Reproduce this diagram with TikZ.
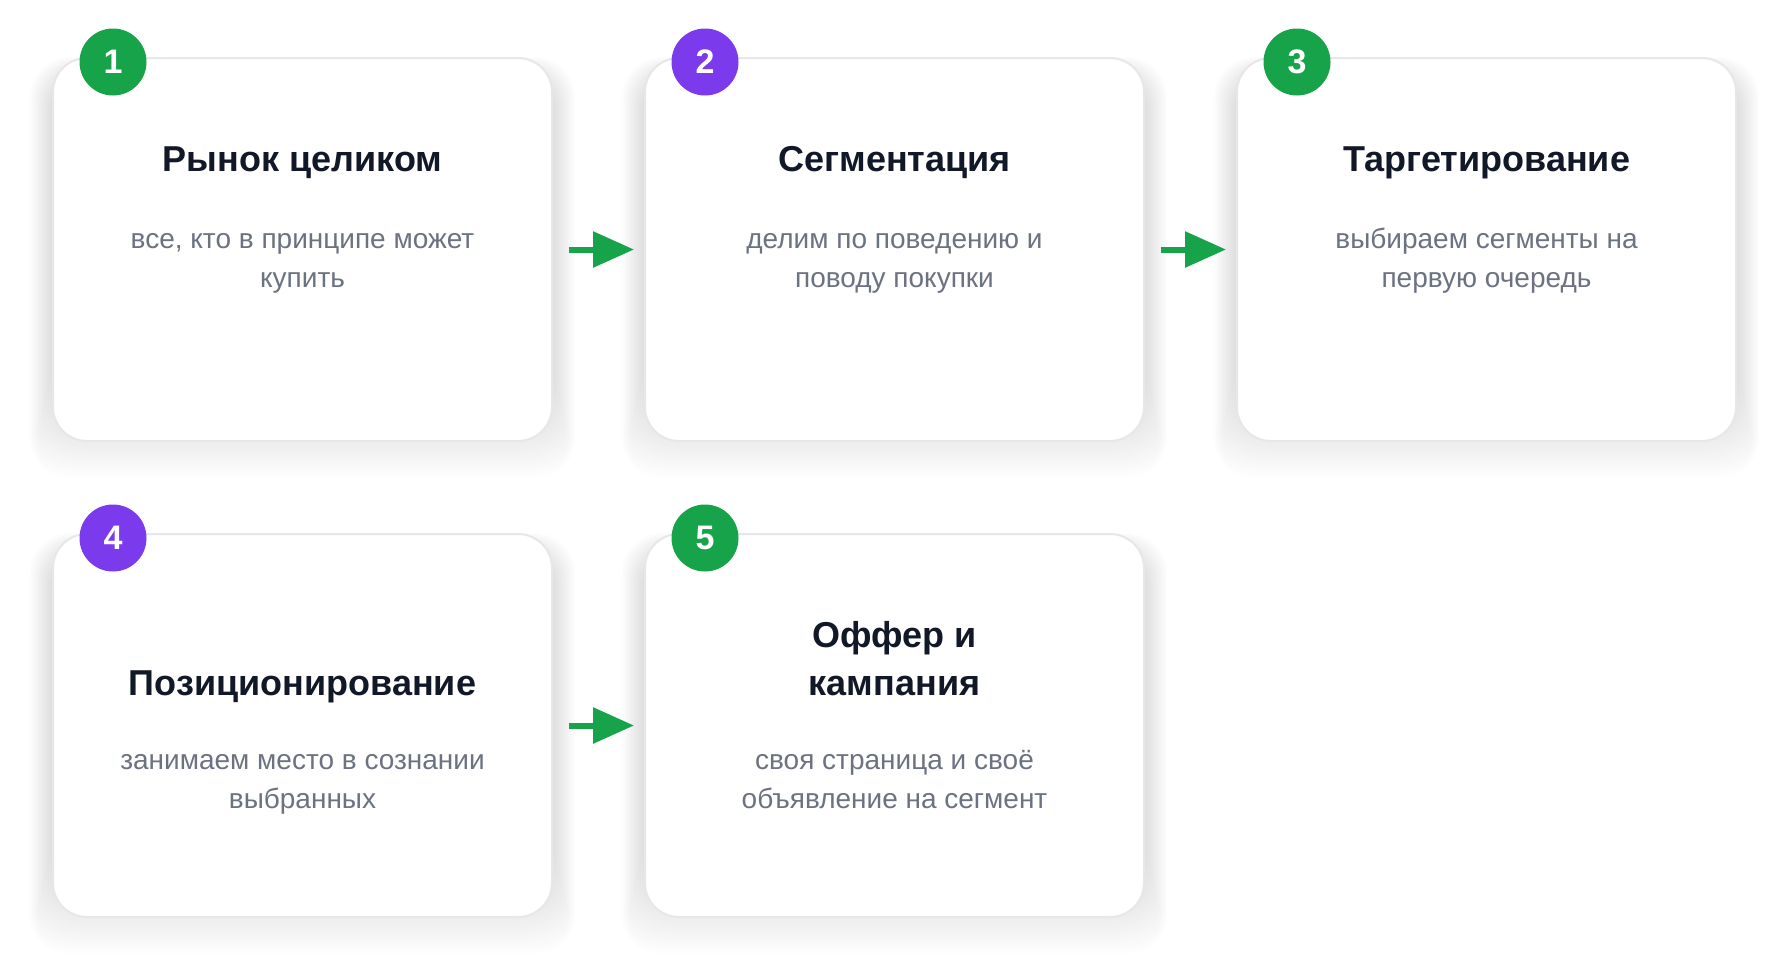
\documentclass[tikz,border=0pt]{standalone}
\usepackage{fontspec}
\setmainfont{Liberation Sans}
\usetikzlibrary{arrows.meta,backgrounds,calc}
\definecolor{stepgreen}{HTML}{16A34A}
\definecolor{steppurple}{HTML}{7C3AED}
\definecolor{cardline}{HTML}{E5E7EB}
\definecolor{titleink}{HTML}{111827}
\definecolor{noteink}{HTML}{6B7280}
\definecolor{shade}{HTML}{1E2340}
\tikzset{
  card/.style={draw=cardline, line width=2pt, fill=white, rounded corners=34pt,
    minimum width=499pt, minimum height=383pt},
  badge/.style={circle, minimum size=67pt, inner sep=0pt, text=white,
    font=\bfseries\fontsize{34}{34}\selectfont},
  cardtitle/.style={anchor=base, align=center, text=titleink,
    font=\bfseries\fontsize{36}{48}\selectfont},
  cardnote/.style={anchor=base, align=center, text=noteink,
    font=\fontsize{28}{39}\selectfont},
  flow/.style={-{Triangle[length=41pt,width=35pt]}, line width=6pt, draw=stepgreen,
    shorten <=16pt, shorten >=10pt},
}
\begin{document}
\begin{tikzpicture}[x=1pt,y=-1pt]
      \useasboundingbox (0,0) rectangle (1790,977);
      \draw
        (302.5,249.5) node[card] (r1){}
        (894.5,249.5) node[card] (r2){}
        (1486.5,249.5) node[card] (r3){}
        (302.5,725.5) node[card] (r4){}
        (894.5,725.5) node[card] (r5){};
      \draw
        (113,62) node[badge, fill=stepgreen] (n1){1}
        (705,62) node[badge, fill=steppurple] (n2){2}
        (1297,62) node[badge, fill=stepgreen] (n3){3}
        (113,538) node[badge, fill=steppurple] (n4){4}
        (705,538) node[badge, fill=stepgreen] (n5){5};
      % base of a two-line node sits on its last line
      \draw
        (302.5,171) node[cardtitle] (t1){Рынок целиком}
        (894.5,171) node[cardtitle] (t2){Сегментация}
        (1486.5,171) node[cardtitle] (t3){Таргетирование}
        (302.5,695) node[cardtitle] (t4){Позиционирование}
        (894.5,695) node[cardtitle] (t5){Оффер и\\кампания};
      \draw
        (302.5,287) node[cardnote] (d1){все, кто в принципе может\\купить}
        (894.5,287) node[cardnote] (d2){делим по поведению и\\поводу покупки}
        (1486.5,287) node[cardnote] (d3){выбираем сегменты на\\первую очередь}
        (302.5,808) node[cardnote] (d4){занимаем место в сознании\\выбранных}
        (894.5,808) node[cardnote] (d5){своя страница и своё\\объявление на сегмент};
      \begin{scope}[flow]
        \draw (r1) to (r2);
        \draw (r2) to (r3);
        \draw (r4) to (r5);
      \end{scope}
      % soft shadow under the cards
      \begin{scope}[on background layer]
        \fill[white] (0,0) rectangle (1790,977);
        \foreach \c in {r1,r2,r3,r4,r5}
          \foreach \i in {2,4,...,32}
            \fill[shade, opacity=0.003, rounded corners=40pt]
              ($(\c.north west)+(-0.7*\i,-0.5*\i+16)$) rectangle ($(\c.south east)+(0.7*\i,\i+4)$);
      \end{scope}
    \end{tikzpicture}
\end{document}
